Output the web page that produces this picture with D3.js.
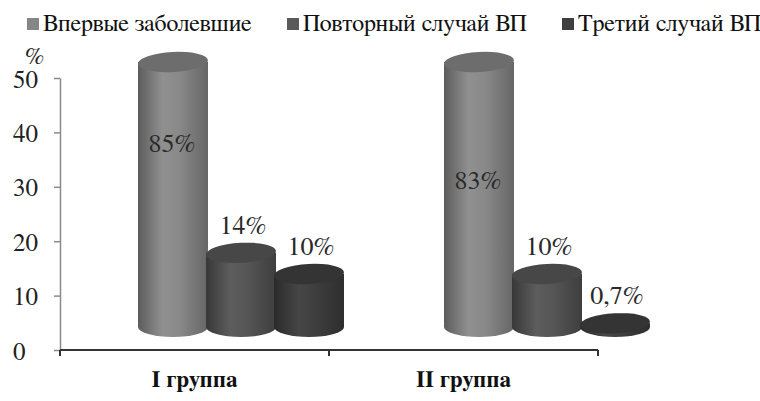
<!DOCTYPE html>
<html>
<head>
<meta charset="utf-8">
<script src="https://cdn.jsdelivr.net/npm/d3@7"></script>
<style>
  html, body { margin: 0; padding: 0; background: #fff; }
  svg { display: block; }
</style>
</head>
<body>
<svg id="chart" width="760" height="401"></svg>
<script>
// Data
const categories = ["I группа", "II группа"];
const seriesNames = ["Впервые заболевшие", "Повторный случай ВП", "Третий случай ВП"];
const firstCase = [85, 83];
const secondCase = [14, 10];
const thirdCase = [10, 0.7];
const yTicks = [0, 10, 20, 30, 40, 50];

const FONT = "FreeSerif, 'Liberation Serif', 'Times New Roman', serif";

// Styling per series
const seriesStyle = [
  { key: "s0", legend: "#868686", top: "#6d6d6d", stops: ["#5c5c5c", "#909090", "#888888", "#666666"] },
  { key: "s1", legend: "#5a5a5a", top: "#474747", stops: ["#383838", "#5d5d5d", "#555555", "#3e3e3e"] },
  { key: "s2", legend: "#3f3f3f", top: "#343434", stops: ["#2a2a2a", "#464646", "#3e3e3e", "#2e2e2e"] }
];
// Where labels of bars exceeding the axis sit inside the cylinder (axis units)
const insideLabelAt = [33, 26];

const seriesValues = [firstCase, secondCase, thirdCase];
const rows = [];
categories.forEach((c, ci) => {
  seriesNames.forEach((s, si) => {
    rows.push({ cat: c, ci, series: s, si, value: seriesValues[si][ci] });
  });
});

const svg = d3.select("#chart").attr("font-family", FONT);
const fmt = v => String(v).replace(".", ",") + "%";

// Gradients
const defs = svg.append("defs");
seriesStyle.forEach(st => {
  const g = defs.append("linearGradient").attr("id", "grad-" + st.key)
    .attr("x1", "0%").attr("x2", "100%").attr("y1", "0%").attr("y2", "0%");
  [0, 0.35, 0.6, 1].forEach((o, i) => g.append("stop").attr("offset", o).attr("stop-color", st.stops[i]));
});

// Front axis scales
const xAxisScale = d3.scaleBand().domain(categories).range([60, 598]).padding(0);
const yAxisScale = d3.scaleLinear().domain([0, 50]).range([350, 78]);

// Scales for the receding 3D floor where the cylinders stand
const xFloor = d3.scaleBand().domain(categories).range([88, 700]).padding(0);
const xInner = d3.scaleBand().domain(seriesNames).range([0, xFloor.bandwidth()]).paddingInner(0).paddingOuter(0.75);
const yCyl = d3.scaleLinear().domain([0, 50]).range([327, 62]).clamp(true);
const rx = 35, ry = 10;

// Y axis
const yAxis = d3.axisLeft(yAxisScale).tickValues(yTicks).tickSize(6).tickSizeOuter(0);
const gy = svg.append("g").attr("transform", "translate(60,0)").call(yAxis)
  .attr("font-family", FONT).attr("font-size", null);
gy.select(".domain").attr("stroke", "#8a8a8a").attr("stroke-width", 1.5);
gy.selectAll(".tick line").attr("stroke", "#8a8a8a").attr("stroke-width", 1.5);
gy.selectAll(".tick text")
  .attr("x", -47).attr("dy", "0.36em")
  .attr("text-anchor", "start")
  .attr("fill", "#222")
  .attr("font-family", FONT)
  .attr("font-size", 25);

svg.append("text").attr("x", 25).attr("y", 64)
  .attr("fill", "#222").attr("font-size", 24).text("%");

// X axis line with ticks between categories
const xEdges = [xAxisScale.range()[0]].concat(categories.map(c => xAxisScale(c) + xAxisScale.bandwidth()));
svg.append("line").attr("x1", xAxisScale.range()[0]).attr("x2", xAxisScale.range()[1])
  .attr("y1", yAxisScale(0)).attr("y2", yAxisScale(0))
  .attr("stroke", "#333").attr("stroke-width", 2);
svg.selectAll(".xtick").data(xEdges).join("line").attr("class", "xtick")
  .attr("x1", d => d).attr("x2", d => d)
  .attr("y1", yAxisScale(0)).attr("y2", yAxisScale(0) + 6)
  .attr("stroke", "#333").attr("stroke-width", 2);
svg.selectAll(".xlabel").data(categories).join("text").attr("class", "xlabel")
  .attr("x", d => xAxisScale(d) + xAxisScale.bandwidth() / 2)
  .attr("y", 387)
  .attr("text-anchor", "middle")
  .attr("fill", "#111")
  .attr("font-size", 23).attr("font-weight", "bold")
  .text(d => d);

// Cylinders
const cyl = svg.append("g").selectAll("g.cyl").data(rows).join("g").attr("class", "cyl");
cyl.each(function(d) {
  const g = d3.select(this);
  const st = seriesStyle[d.si];
  const cx = xFloor(d.cat) + xInner(d.series) + xInner.bandwidth() / 2;
  const base = yCyl(0);
  const top = yCyl(d.value);
  d.cx = cx; d.top = top;
  g.append("path")
    .attr("d", `M${cx - rx},${top} L${cx - rx},${base} A${rx},${ry} 0 0 0 ${cx + rx},${base} L${cx + rx},${top} Z`)
    .attr("fill", `url(#grad-${st.key})`);
  g.append("ellipse")
    .attr("cx", cx).attr("cy", top).attr("rx", rx).attr("ry", ry)
    .attr("transform", `rotate(-3,${cx},${top})`)
    .attr("fill", st.top);
});

// Value labels
svg.selectAll(".vlabel").data(rows).join("text").attr("class", "vlabel")
  .attr("x", d => d.cx + (d.value > 50 ? -1 : 2))
  .attr("y", d => d.value > 50 ? yCyl(insideLabelAt[d.ci]) : d.top - 19)
  .attr("text-anchor", "middle")
  .attr("fill", "#2a2a2a")
  .attr("font-size", 26)
  .text(d => fmt(d.value));

// Legend
const legendX = [27, 287, 562];
const lg = svg.selectAll(".legend").data(seriesNames).join("g").attr("class", "legend")
  .attr("transform", (d, i) => `translate(${legendX[i]},18)`);
lg.append("rect").attr("width", 12).attr("height", 12).attr("fill", (d, i) => seriesStyle[i].legend);
lg.append("text").attr("x", 16).attr("y", 12.5).attr("fill", "#111")
  .attr("font-size", 24).text(d => d);
</script>
</body>
</html>
